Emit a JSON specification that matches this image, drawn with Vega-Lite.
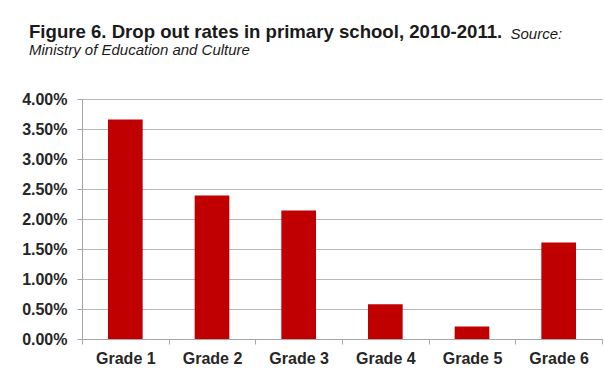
{
  "$schema": "https://vega.github.io/schema/vega-lite/v6.json",
  "autosize": {"type": "none"},
  "padding": {"left": 82, "top": 99, "right": 2, "bottom": 34},
  "width": 520,
  "height": 240,
  "background": "white",
  "title": {
    "text": "Figure 6. Drop out rates in primary school, 2010-2011.",
    "subtitle": "Ministry of Education and Culture",
    "anchor": "start",
    "frame": "group",
    "dx": -53,
    "offset": -32,
    "font": "Liberation Sans",
    "fontSize": 18.6,
    "fontWeight": "bold",
    "color": "#1a1a1a",
    "subtitleFont": "Liberation Sans",
    "subtitleFontSize": 15,
    "subtitleFontStyle": "italic",
    "subtitleColor": "#1a1a1a",
    "subtitlePadding": 1
  },
  "data": {
    "values": [
      {"grade": "Grade 1", "rate": 0.0366},
      {"grade": "Grade 2", "rate": 0.0239},
      {"grade": "Grade 3", "rate": 0.0214},
      {"grade": "Grade 4", "rate": 0.0058},
      {"grade": "Grade 5", "rate": 0.0021},
      {"grade": "Grade 6", "rate": 0.0161}
    ]
  },
  "mark": {"type": "bar", "color": "#C00000", "width": {"band": 0.4}},
  "encoding": {
    "x": {
      "field": "grade",
      "type": "nominal",
      "sort": null,
      "scale": {"paddingInner": 0, "paddingOuter": 0},
      "axis": {
        "title": null,
        "labelAngle": 0,
        "labelFont": "Liberation Sans",
        "labelFontSize": 16,
        "labelFontWeight": "bold",
        "labelColor": "#262626",
        "labelPadding": 6,
        "tickBand": "extent",
        "tickSize": 5,
        "tickColor": "#A6A6A6",
        "domainColor": "#A6A6A6",
        "grid": false
      }
    },
    "y": {
      "field": "rate",
      "type": "quantitative",
      "scale": {"domain": [0, 0.04], "nice": false},
      "axis": {
        "values": [0, 0.005, 0.01, 0.015, 0.02, 0.025, 0.03, 0.035, 0.04],
        "format": ".2%",
        "labelFont": "Liberation Sans",
        "labelFontSize": 16,
        "labelFontWeight": "bold",
        "labelColor": "#262626",
        "labelPadding": 10,
        "tickSize": 5,
        "tickColor": "#A6A6A6",
        "domainColor": "#A6A6A6",
        "gridColor": "#B8B8B8",
        "title": "Source:",
        "titleAngle": 0,
        "titleX": 428,
        "titleY": -61,
        "titleAlign": "left",
        "titleBaseline": "alphabetic",
        "titleFont": "Liberation Sans",
        "titleFontSize": 15,
        "titleFontStyle": "italic",
        "titleFontWeight": "normal",
        "titleColor": "#1a1a1a"
      }
    }
  },
  "config": {"view": {"stroke": null}}
}
